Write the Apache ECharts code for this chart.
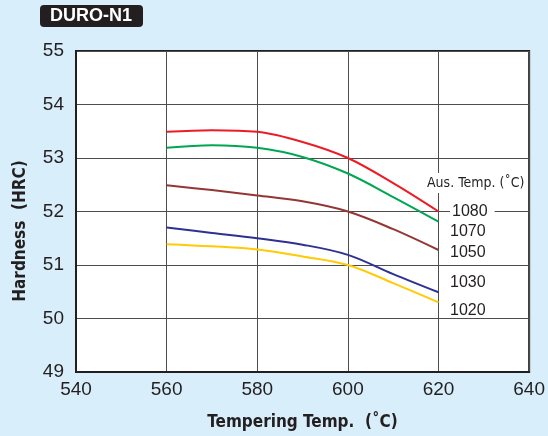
<!DOCTYPE html>
<html>
<head>
<meta charset="utf-8">
<script src="https://cdn.jsdelivr.net/npm/echarts@6/dist/echarts.min.js"></script>
<style>
html,body{margin:0;padding:0;background:#d9eefb;}
#c{width:548px;height:436px;}
</style>
</head>
<body>
<div id="c"></div>
<script>
const xTemps = [560, 570, 580, 590, 600, 610, 620];
const aus1080 = [53.49, 53.52, 53.49, 53.30, 53.00, 52.53, 52.00];
const aus1070 = [53.19, 53.24, 53.19, 53.02, 52.71, 52.27, 51.81];
const aus1050 = [52.49, 52.40, 52.30, 52.19, 52.00, 51.67, 51.28];
const aus1030 = [51.70, 51.60, 51.50, 51.38, 51.19, 50.83, 50.49];
const aus1020 = [51.39, 51.35, 51.29, 51.16, 51.00, 50.66, 50.30];
const seriesNames = ['1080', '1070', '1050', '1030', '1020'];
const xTicks = [540, 560, 580, 600, 620, 640];
const yTicks = [49, 50, 51, 52, 53, 54, 55];

const allData = [aus1080, aus1070, aus1050, aus1030, aus1020];
const colors = ['#ec1c24', '#00a651', '#943634', '#2e3192', '#ffcb05'];

const chart = echarts.init(document.getElementById('c'));
const font = 'Liberation Sans, Arial, Helvetica, sans-serif';
const boldFont = '"DejaVu Sans Condensed", "Liberation Sans", Arial, sans-serif';

const labelYs = [212, 232, 253, 283, 311];

chart.setOption({
  backgroundColor: '#d9eefb',
  animation: false,
  title: {
    text: 'DURO-N1',
    left: 40, top: 5,
    backgroundColor: '#231f20',
    borderRadius: 4,
    padding: [2, 11, 2, 10],
    textStyle: { color: '#fff', fontSize: 18, fontWeight: 'bold', fontFamily: font, lineHeight: 18 }
  },
  grid: {
    left: 76, right: 18, top: 51, bottom: 64,
    show: true, backgroundColor: '#fff', borderColor: '#231f20', borderWidth: 2
  },
  xAxis: {
    type: 'value', min: xTicks[0], max: xTicks[xTicks.length - 1], interval: 20,
    name: 'Tempering Temp.  (˚C)', nameLocation: 'middle', nameGap: 42,
    nameTextStyle: { fontFamily: boldFont, fontWeight: 'bold', fontSize: 17, color: '#231f20' },
    axisLine: { show: true, lineStyle: { color: '#231f20', width: 2 } },
    axisTick: { show: false },
    axisLabel: { fontSize: 19, color: '#231f20', fontFamily: font, margin: 8 },
    splitLine: { show: true, lineStyle: { color: '#4d4d4d', width: 1 } }
  },
  yAxis: {
    type: 'value', min: yTicks[0], max: yTicks[yTicks.length - 1], interval: 1,
    axisLine: { show: true, lineStyle: { color: '#231f20', width: 2 } },
    axisTick: { show: false },
    axisLabel: { fontSize: 19, color: '#231f20', fontFamily: font, margin: 12 },
    splitLine: { show: true, lineStyle: { color: '#4d4d4d', width: 1 } }
  },
  series: allData.map((d, i) => ({
    type: 'line',
    name: seriesNames[i],
    data: d.map((v, j) => [xTemps[j], v]),
    smooth: 0.35,
    showSymbol: false,
    lineStyle: { color: colors[i], width: 2 },
    itemStyle: { color: colors[i] },
    z: 3
  })),
  graphic: [
    {
      type: 'text', x: 21, y: 231, rotation: Math.PI / 2,
      style: {
        text: 'Hardness  (HRC)', fill: '#231f20',
        font: 'bold 17px ' + boldFont,
        textAlign: 'center', textVerticalAlign: 'middle'
      }
    },
    {
      type: 'text', x: 427, y: 183, z: 10,
      style: {
        text: 'Aus. Temp. (˚C)', fill: '#231f20',
        font: '14px ' + boldFont,
        textAlign: 'left', textVerticalAlign: 'middle',
        backgroundColor: '#fff', padding: [3, 0, 3, 0]
      }
    }
  ].concat(seriesNames.map((n, i) => ({
    type: 'text', x: 450, y: labelYs[i], z: 10,
    style: {
      text: n, fill: '#231f20', font: '16px ' + font,
      textAlign: 'left', textVerticalAlign: 'middle',
      backgroundColor: i === 0 ? '#fff' : null,
      padding: i === 0 ? [0, 7, 0, 2] : 0
    }
  })))
});
</script>
</body>
</html>
